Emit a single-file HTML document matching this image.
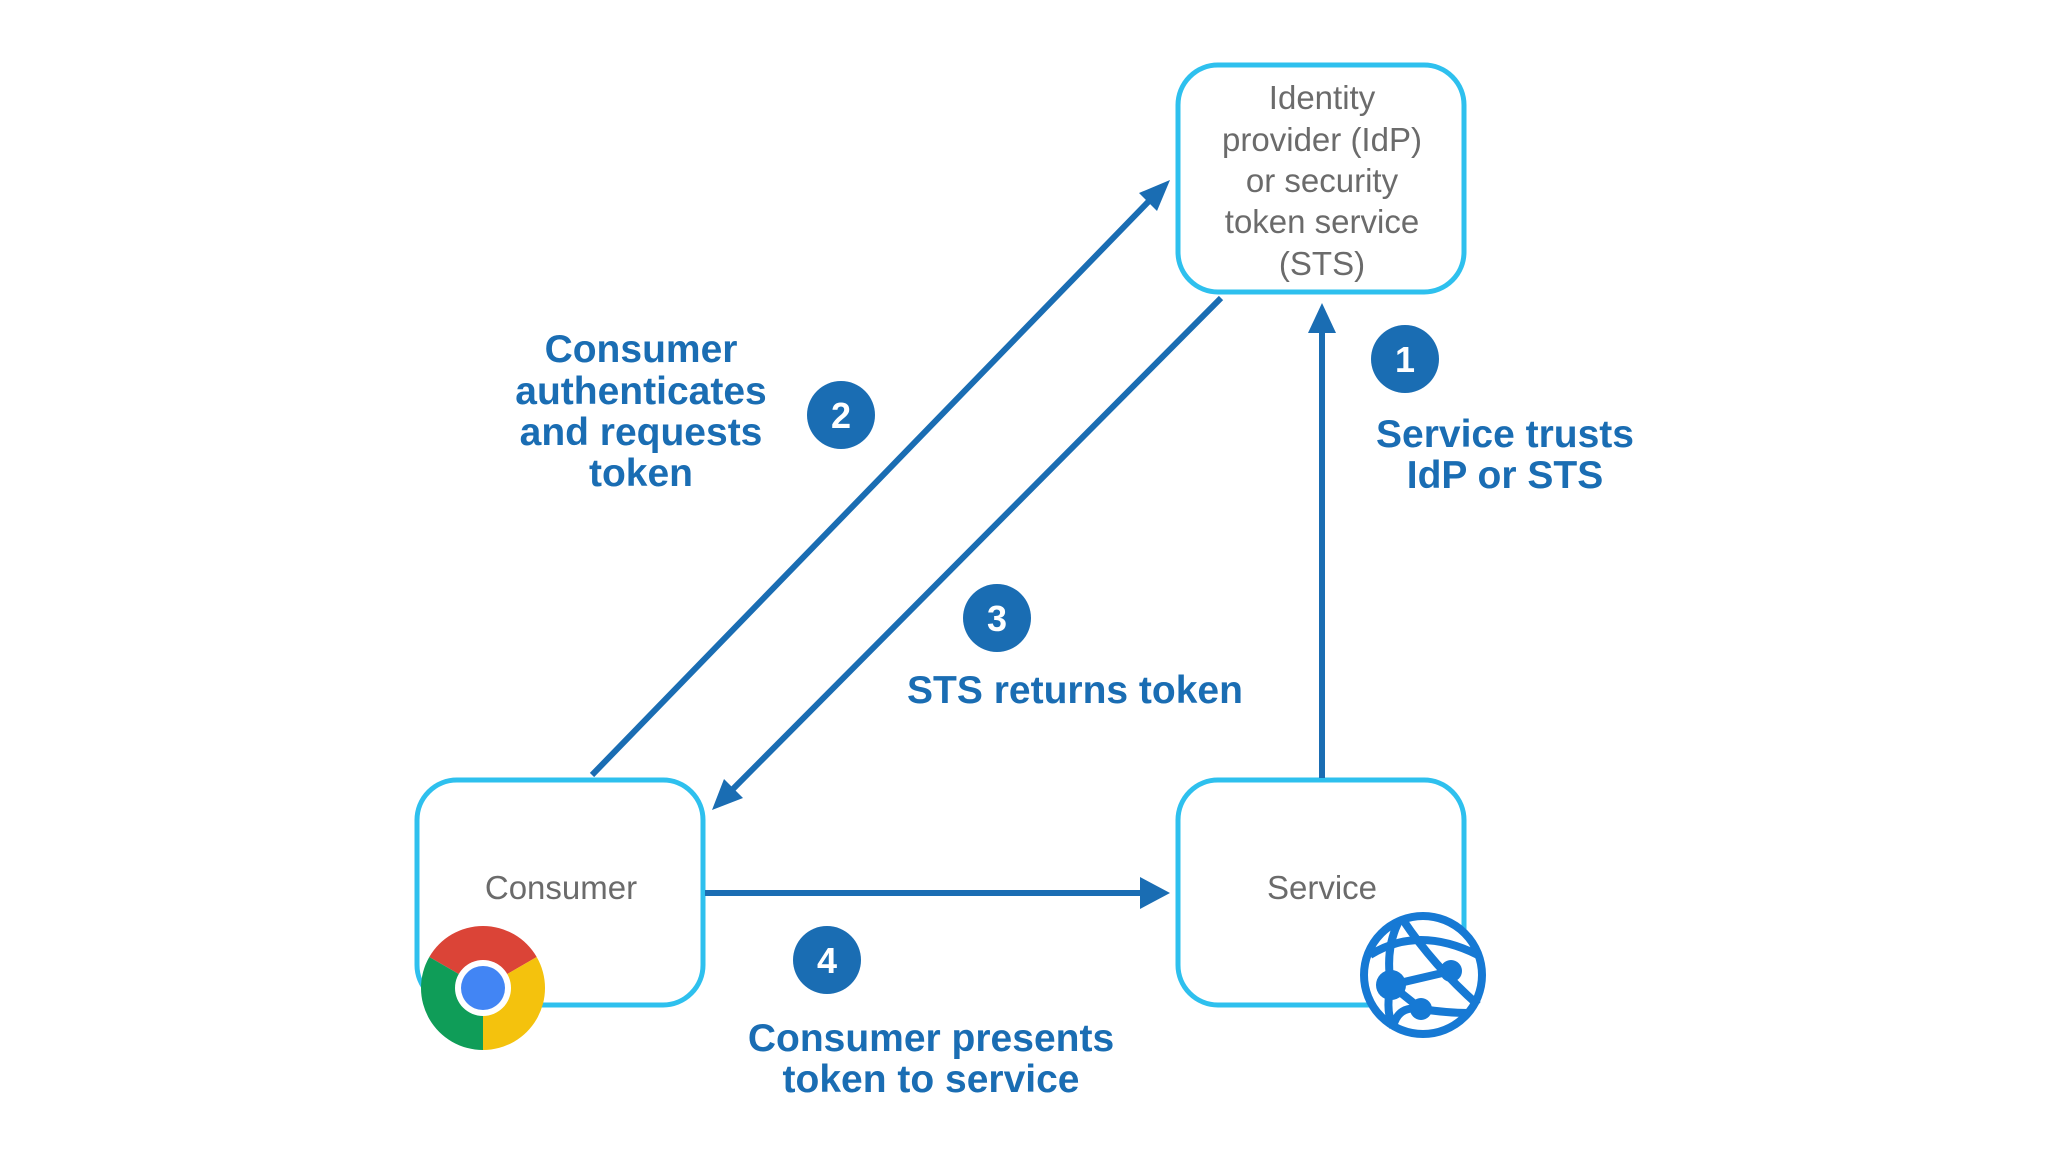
<!DOCTYPE html>
<html><head><meta charset="utf-8"><style>
html,body{margin:0;padding:0;background:#fff}
svg{display:block}
.lbl{font-family:"Liberation Sans",sans-serif;font-weight:bold;fill:#1a6db3;font-size:39px;text-anchor:middle}
.box{font-family:"Liberation Sans",sans-serif;fill:#6b6b6b;font-size:33px;text-anchor:middle}
.num{font-family:"Liberation Sans",sans-serif;font-weight:bold;fill:#fff;font-size:36px;text-anchor:middle}
</style></head><body>
<svg width="2048" height="1152" viewBox="0 0 2048 1152" xmlns="http://www.w3.org/2000/svg">
<rect width="2048" height="1152" fill="#fff"/>
<rect x="1178" y="65" width="286" height="227" rx="40" fill="none" stroke="#2ec0ee" stroke-width="5"/>
<rect x="417" y="780" width="286" height="225" rx="40" fill="none" stroke="#2ec0ee" stroke-width="5"/>
<rect x="1178" y="780" width="286" height="225" rx="40" fill="none" stroke="#2ec0ee" stroke-width="5"/>
<g stroke="#1a6db3" stroke-width="6" fill="#1a6db3">
<line x1="1322" y1="778" x2="1322" y2="330"/>
<polygon points="1322,303 1308,333 1336,333" stroke="none"/>
<line x1="592" y1="775" x2="1150" y2="200"/>
<polygon points="1170,180 1139,193 1157,211" stroke="none"/>
<line x1="1221" y1="298" x2="730" y2="792"/>
<polygon points="712,810 724,779 743,798" stroke="none"/>
<line x1="705" y1="893" x2="1145" y2="893"/>
<polygon points="1170,893 1140,877 1140,909" stroke="none"/>
</g>
<text class="box" x="1322" y="109">Identity</text>
<text class="box" x="1322" y="151">provider (IdP)</text>
<text class="box" x="1322" y="192">or security</text>
<text class="box" x="1322" y="233">token service</text>
<text class="box" x="1322" y="275">(STS)</text>
<text class="box" x="561" y="899">Consumer</text>
<text class="box" x="1322" y="899">Service</text>
<g fill="#1a6db3">
<circle cx="1405" cy="359" r="34"/>
<circle cx="841" cy="415" r="34"/>
<circle cx="997" cy="618" r="34"/>
<circle cx="827" cy="960" r="34"/>
</g>
<text class="num" x="1405" y="372">1</text>
<text class="num" x="841" y="428">2</text>
<text class="num" x="997" y="631">3</text>
<text class="num" x="827" y="973">4</text>
<text class="lbl" x="641" y="362">Consumer</text>
<text class="lbl" x="641" y="404">authenticates</text>
<text class="lbl" x="641" y="445">and requests</text>
<text class="lbl" x="641" y="486">token</text>
<text class="lbl" x="1505" y="447">Service trusts</text>
<text class="lbl" x="1505" y="488">IdP or STS</text>
<text class="lbl" x="1075" y="703">STS returns token</text>
<text class="lbl" x="931" y="1051">Consumer presents</text>
<text class="lbl" x="931" y="1092">token to service</text>
<g transform="translate(483,988)">
<path d="M0,0 L-53.7,-31 A62,62 0 0 1 53.7,-31 Z" fill="#db4437"/>
<path d="M0,0 L53.7,-31 A62,62 0 0 1 0,62 Z" fill="#f4c20d"/>
<path d="M0,0 L0,62 A62,62 0 0 1 -53.7,-31 Z" fill="#0f9d58"/>
<circle r="28" fill="#fff"/>
<circle r="22" fill="#4285f4"/>
</g>
<g transform="translate(1423,975)" fill="none" stroke="#1679d4" stroke-width="8">
<circle r="59" fill="#fff"/>
<path d="M-20,-55 Q10,-10 55,30"/>
<path d="M-53,-20 Q-5,-50 55,-20"/>
<path d="M-32,10 Q-38,-25 -25,-52"/>
<path d="M-32,10 L28,-4"/>
<path d="M-32,10 L-2,34"/>
<path d="M-30,52 Q-25,30 -2,34 Q25,38 45,38"/>
<path d="M-32,10 Q-38,35 -30,52"/>
<g fill="#1679d4" stroke="none">
<circle cx="-32" cy="10" r="15"/>
<circle cx="28" cy="-4" r="11"/>
<circle cx="-2" cy="34" r="11"/>
</g>
</g>
</svg>
</body></html>
